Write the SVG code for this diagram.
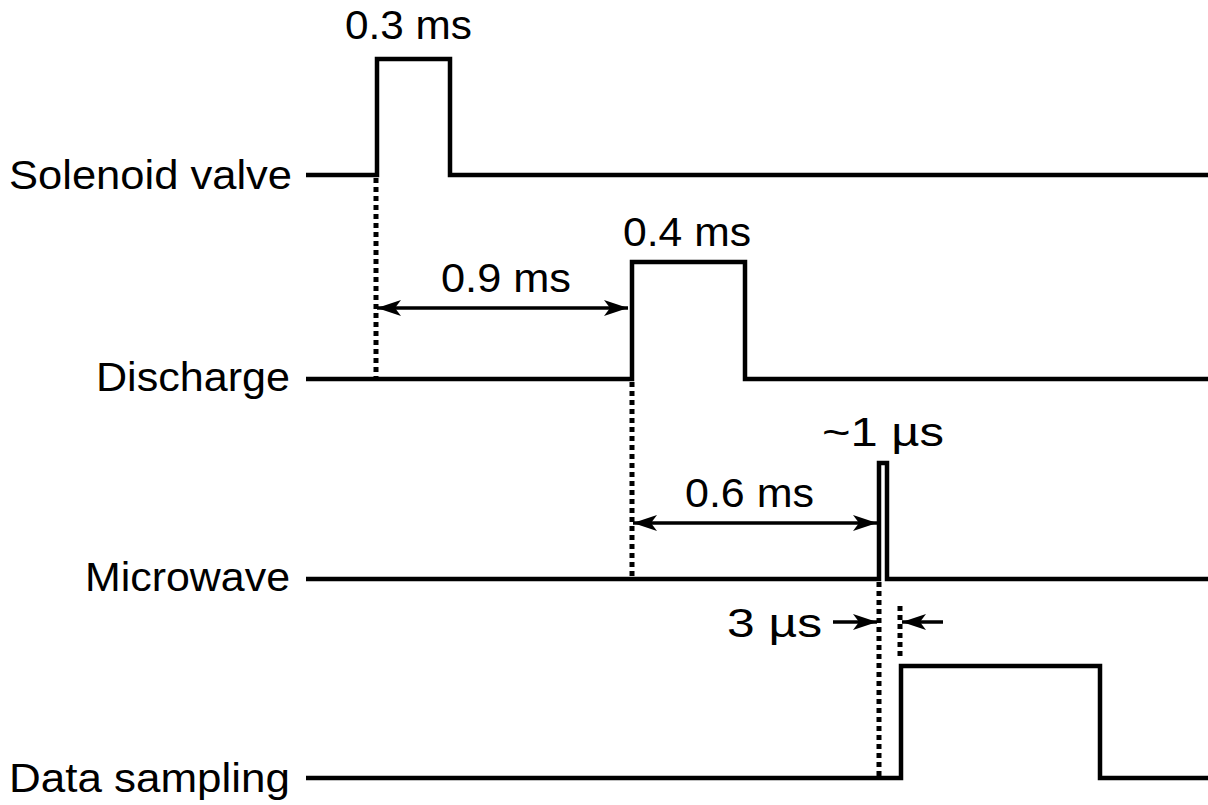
<svg xmlns="http://www.w3.org/2000/svg" width="1208" height="805" viewBox="0 0 1208 805">
<style>
.sig{fill:none;stroke:#000;stroke-width:4.5;stroke-linejoin:miter;stroke-linecap:butt}
.dot{fill:none;stroke:#000;stroke-width:5;stroke-dasharray:5 4}
.arr{fill:none;stroke:#000;stroke-width:3.5}
.lbl{font-family:"Liberation Sans",Arial,sans-serif;font-size:41px;fill:#000}
.ann{font-family:"Liberation Sans",Arial,sans-serif;font-size:40px;fill:#000}
</style>
<defs>
<marker id="ah" viewBox="0 0 24 16" refX="24" refY="8" markerWidth="24" markerHeight="16" markerUnits="userSpaceOnUse" orient="auto-start-reverse">
<path d="M0,0 L24,8 L0,16 L6,8 Z" fill="#000"/>
</marker>
</defs>
<rect width="1208" height="805" fill="#fff"/>
<g id="solenoid">
<text class="lbl" x="9" y="189" textLength="283" lengthAdjust="spacingAndGlyphs">Solenoid valve</text>
<path class="sig" d="M306,175 H377 V59 H450 V175 H1208"/>
</g>
<g id="discharge">
<text class="lbl" x="96" y="391" textLength="194" lengthAdjust="spacingAndGlyphs">Discharge</text>
<path class="sig" d="M306,379 H632 V262 H745 V379 H1208"/>
</g>
<g id="microwave">
<text class="lbl" x="85" y="591" textLength="205" lengthAdjust="spacingAndGlyphs">Microwave</text>
<path class="sig" d="M306,579 H879 V463 H887 V579 H1208"/>
</g>
<g id="datasampling">
<text class="lbl" x="9" y="792" textLength="281" lengthAdjust="spacingAndGlyphs">Data sampling</text>
<path class="sig" d="M306,778 H901 V666 H1100 V778 H1208"/>
</g>
<g id="connectors">
<line class="dot" x1="376" y1="178" x2="376" y2="378"/>
<line class="dot" x1="632" y1="382" x2="632" y2="578"/>
<line class="dot" x1="879" y1="582" x2="879" y2="776"/>
<line class="dot" x1="900" y1="606" x2="900" y2="656"/>
<line class="arr" x1="377" y1="308" x2="628" y2="308" marker-start="url(#ah)" marker-end="url(#ah)"/>
<line class="arr" x1="633" y1="523" x2="877" y2="523" marker-start="url(#ah)" marker-end="url(#ah)"/>
<line class="arr" x1="833" y1="622" x2="877" y2="622" marker-end="url(#ah)"/>
<line class="arr" x1="943" y1="622" x2="902" y2="622" marker-end="url(#ah)"/>
</g>
<g id="labels">
<text class="ann" x="345" y="39" textLength="127" lengthAdjust="spacingAndGlyphs">0.3 ms</text>
<text class="ann" x="623" y="246" textLength="128" lengthAdjust="spacingAndGlyphs">0.4 ms</text>
<text class="ann" x="441" y="292" textLength="130" lengthAdjust="spacingAndGlyphs">0.9 ms</text>
<text class="ann" x="685" y="507" textLength="129" lengthAdjust="spacingAndGlyphs">0.6 ms</text>
<text class="ann" x="822" y="446" textLength="122" lengthAdjust="spacingAndGlyphs">~1 µs</text>
<text class="ann" x="727" y="637" textLength="95" lengthAdjust="spacingAndGlyphs">3 µs</text>
</g>
</svg>
